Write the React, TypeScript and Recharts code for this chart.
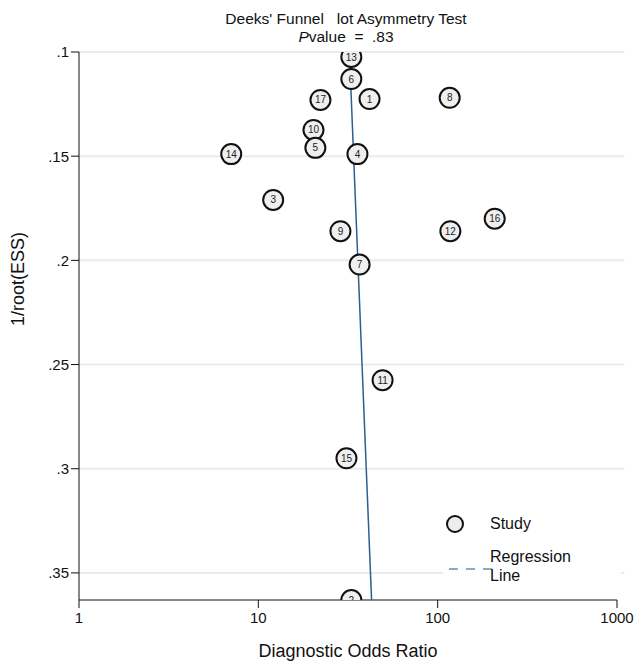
import React from 'react';
import {
  ComposedChart, Scatter, XAxis, YAxis, ReferenceLine,
} from 'recharts';

// study labels, diagnostic odds ratio, 1/root(ESS)
const studyIds = [13, 6, 17, 1, 8, 10, 5, 4, 14, 3, 9, 12, 16, 7, 11, 15, 2];
const studyDor = [33, 33, 22.2, 41.7, 116.7, 20.3, 20.8, 35.7, 7.06, 12.1, 28.7, 117.7, 208, 36.7, 49.3, 31, 33];
const studyEss = [0.1024, 0.113, 0.123, 0.1226, 0.122, 0.1374, 0.146, 0.149, 0.149, 0.171, 0.186, 0.186, 0.18, 0.202, 0.2575, 0.295, 0.363];

// regression line end points
const regDor = [32.2, 42.8];
const regEss = [0.1, 0.363];

const xTicks = [1, 10, 100, 1000];
const yTicks = [0.1, 0.15, 0.2, 0.25, 0.3, 0.35];

const studies = studyIds.map((id, i) => ({ id, dor: studyDor[i], ess: studyEss[i] }));
const regression = regDor.map((d, i) => ({ dor: d, ess: regEss[i] }));

const FONT = '"Liberation Sans", Arial, sans-serif';

const StudyDot = (props: any) => {
  const { cx, cy, payload } = props;
  return (
    <g>
      <circle cx={cx} cy={cy} r={10} fill="#efefef" stroke="#111" strokeWidth={2} />
      <text x={cx} y={cy + 3.5} textAnchor="middle" fontSize={10} fill="#222" fontFamily={FONT}>
        {payload.id}
      </text>
    </g>
  );
};

const LegendBox = () => (
  <div style={{ position: 'absolute', left: 443, top: 506, background: '#fff', width: 178, height: 84, fontFamily: FONT, color: '#111' }}>
    <svg width={60} height={84} style={{ position: 'absolute', left: 0, top: 0 }}>
      <circle cx={12} cy={18} r={8} fill="#eeeeee" stroke="#111" strokeWidth={2} />
      <line x1={6} y1={63} x2={57} y2={63} stroke="#6a8fb0" strokeWidth={1.5} strokeDasharray="9 8" />
    </svg>
    <div style={{ position: 'absolute', left: 47, top: 9, fontSize: 16 }}>Study</div>
    <div style={{ position: 'absolute', left: 47, top: 41, fontSize: 16, lineHeight: '19px' }}>
      Regression<br />Line
    </div>
  </div>
);

export default function App() {
  return (
    <div style={{ position: 'absolute', left: 0, top: 0, width: 644, height: 667, background: '#fff', fontFamily: FONT }}>
      <ComposedChart width={644} height={667} margin={{ top: 52, right: 27, bottom: 0, left: 0 }}>
        {yTicks.map((t) => (
          <ReferenceLine
            key={t}
            segment={[{ x: 1, y: t }, { x: 1100, y: t }]}
            ifOverflow="visible"
            stroke="#e4eef1"
            strokeWidth={2}
          />
        ))}
        <XAxis
          type="number"
          dataKey="dor"
          scale="log"
          domain={[1, 1000]}
          ticks={xTicks}
          allowDataOverflow
          height={67}
          stroke="#111"
          tickSize={8}
          tickMargin={4}
          tick={{ fill: '#111', fontSize: 15, fontFamily: FONT }}
          label={{ value: 'Diagnostic Odds Ratio', position: 'insideBottom', offset: 10, fill: '#111', fontSize: 18, fontFamily: FONT }}
        />
        <YAxis
          type="number"
          dataKey="ess"
          reversed
          domain={[0.1, 0.363]}
          ticks={yTicks}
          allowDataOverflow
          width={79}
          stroke="#111"
          tickSize={8}
          tickFormatter={(v: number) => String(v).replace(/^0/, '')}
          tick={{ fill: '#111', fontSize: 15, fontFamily: FONT }}
          label={{ value: '1/root(ESS)', angle: -90, position: 'insideLeft', offset: 18, fill: '#111', fontSize: 18, fontFamily: FONT }}
        />
        <Scatter
          data={regression}
          line={{ stroke: '#2f5f8f', strokeWidth: 1.5 }}
          shape={() => <g />}
          isAnimationActive={false}
          legendType="none"
        />
        <Scatter data={studies} shape={StudyDot} isAnimationActive={false} />
      </ComposedChart>
      <LegendBox />
      <div style={{ position: 'absolute', left: 0, width: 692, top: 10, textAlign: 'center', fontSize: 15.5, lineHeight: '18px', color: '#111' }}>
        Deeks' Funnel &nbsp; lot Asymmetry Test<br />
        <i>P</i>value &nbsp;= &nbsp;.83
      </div>
    </div>
  );
}
